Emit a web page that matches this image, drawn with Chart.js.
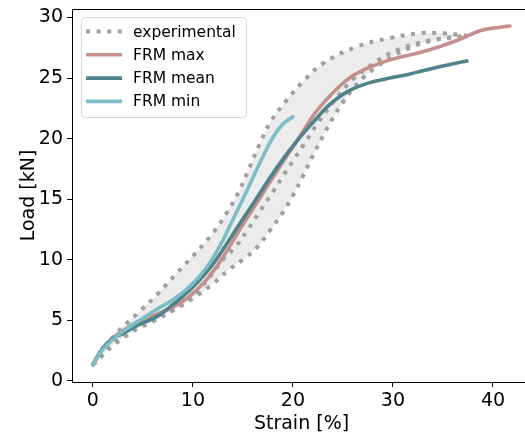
<!DOCTYPE html>
<html><head><meta charset="utf-8">
<script src="https://cdn.jsdelivr.net/npm/chart.js@4/dist/chart.umd.min.js"></script>
<style>html,body{margin:0;padding:0;overflow:hidden;background:#fff}</style></head>
<body><canvas id="c" width="545" height="437"></canvas>
<script>
// ---- data ----
const seriesLabels = ['experimental', 'FRM max', 'FRM mean', 'FRM min'];
const xTicks = [0, 10, 20, 30, 40];
const yTicks = [0, 5, 10, 15, 20, 25, 30];

const expAStrain = [0, 1, 2.7, 4.9, 6.4, 8.4, 10, 12, 13.4, 14.7, 15.7, 16.7, 17.7, 19.4, 21, 23, 26.4, 29.7, 32.7, 35, 37.4];
const expALoad   = [1.3, 2.6, 4.2, 5.9, 7.1, 8.9, 10.3, 12.2, 13.9, 15.8, 17.7, 19.6, 21.3, 23.2, 24.7, 26.2, 27.6, 28.3, 28.7, 28.7, 28.5];

const expBStrain = [0, 1, 2, 4, 6, 8, 10, 12, 13, 14.4, 15.5, 16.7, 18, 19, 20.2, 21.4, 22.5, 24, 26, 28.4, 30.7, 33.7, 37.4];
const expBLoad   = [1.3, 2.3, 3.1, 4.3, 5.2, 5.9, 7.0, 8.9, 10.0, 11.2, 12.5, 14.0, 15.6, 16.9, 18.4, 19.9, 21.3, 23.0, 24.9, 26.4, 27.4, 28.1, 28.5];

const expCStrain = [0, 1, 2, 3, 4, 6, 8, 10, 12, 13.5, 15, 16.4, 17.7, 19, 20, 21, 22, 23, 24, 25, 26, 27, 28.5, 30, 32, 34, 37.4];
const expCLoad   = [1.3, 2.1, 2.9, 3.5, 4.1, 4.9, 5.8, 6.8, 8.0, 9.1, 10.0, 11.0, 12.4, 13.9, 15.3, 16.9, 18.6, 20.2, 21.7, 23.0, 24.1, 25.0, 26.0, 26.8, 27.6, 28.1, 28.5];

const maxStrain = [0, 1, 2.4, 4.7, 6.4, 8, 9.7, 11.4, 13, 14.7, 16.7, 18.7, 20.7, 22.4, 24.5, 26, 27.4, 29.7, 32.7, 34.7, 36.7, 38.7, 40.7, 41.7];
const maxLoad   = [1.4, 2.7, 3.8, 5.0, 5.5, 6.1, 7.0, 8.4, 10.2, 12.5, 15.1, 17.7, 20.2, 22.3, 24.2, 25.2, 25.8, 26.5, 27.1, 27.6, 28.2, 28.9, 29.2, 29.3];

const meanStrain = [0, 1, 2, 3, 4.5, 6.4, 8, 9.7, 11.4, 12.5, 14, 16, 18.4, 20.4, 22.4, 23.4, 24.4, 25.5, 26.7, 28, 29.7, 31.5, 33, 35, 37.4];
const meanLoad   = [1.3, 2.7, 3.5, 3.9, 4.6, 5.3, 6.3, 7.5, 9.0, 10.2, 12.1, 14.6, 17.6, 19.8, 21.7, 22.6, 23.3, 23.9, 24.35, 24.7, 25.0, 25.3, 25.6, 26.0, 26.4];

const minStrain = [0, 1, 2.7, 4.7, 6.4, 8, 9.7, 11.4, 13, 13.7, 15.4, 16.7, 18, 19, 20];
const minLoad   = [1.3, 2.6, 3.9, 5.0, 5.9, 6.7, 7.8, 9.4, 11.6, 12.8, 15.7, 18.0, 20.1, 21.2, 21.8];

const zip = (xs, ys) => xs.map((x, i) => ({x: x, y: ys[i]}));

const FONT = "'DejaVu Sans', sans-serif";
const colExp = '#a0a0a0', colMax = '#c48f8d', colMean = '#508389', colMin = '#7bbec4';

function solid(label, xs, ys, color) {
  return {label, data: zip(xs, ys), showLine: true, borderColor: color, backgroundColor: color,
    borderWidth: 3.6, pointRadius: 0, tension: 0.4, fill: false, borderCapStyle: 'round'};
}
function dotted(label, xs, ys, fill) {
  return {label, data: zip(xs, ys), showLine: true, borderColor: colExp, backgroundColor: '#ececec',
    borderWidth: 4, borderDash: [4, 6.6], borderCapStyle: 'butt', pointRadius: 0,
    tension: 0.4, fill: fill};
}

const datasets = [
  solid(seriesLabels[3], minStrain, minLoad, colMin),
  solid(seriesLabels[2], meanStrain, meanLoad, colMean),
  solid(seriesLabels[1], maxStrain, maxLoad, colMax),
  dotted(seriesLabels[0], expAStrain, expALoad, 5),
  dotted(seriesLabels[0], expBStrain, expBLoad, false),
  dotted(seriesLabels[0], expCStrain, expCLoad, false)
];

const frame = {
  id: 'frame',
  afterDraw(chart) {
    const a = chart.chartArea, c = chart.ctx;
    c.save();
    c.strokeStyle = '#000'; c.lineWidth = 1;
    c.beginPath(); c.moveTo(a.left, a.top + 0.5); c.lineTo(a.right, a.top + 0.5);
    c.moveTo(a.right - 0.5, a.top); c.lineTo(a.right - 0.5, a.bottom); c.stroke();
    // legend
    const bx = a.left + 9, by = a.top + 8, bw = 165, bh = 100;
    c.beginPath();
    c.roundRect(bx + 0.5, by + 0.5, bw, bh, 4);
    c.fillStyle = 'rgba(255,255,255,0.8)'; c.fill();
    c.strokeStyle = '#d6d6d6'; c.lineWidth = 1; c.stroke();
    const items = [datasets[3], datasets[2], datasets[1], datasets[0]];
    items.forEach((d, i) => {
      const yy = by + 14.5 + i * 23.3;
      c.beginPath();
      c.strokeStyle = d.borderColor; c.lineWidth = d.borderWidth === 4 ? 4 : 3.6;
      c.setLineDash(d.borderDash || []);
      c.lineCap = 'butt';
      c.moveTo(bx + 5, yy); c.lineTo(bx + 41, yy); c.stroke();
      c.setLineDash([]);
      c.fillStyle = '#000'; c.font = '15.5px ' + FONT; c.textBaseline = 'middle'; c.textAlign = 'left';
      c.fillText(seriesLabels[i], bx + 52, yy + 1);
    });
    c.restore();
  }
};

const tickFont = {family: FONT, size: 19};
new Chart(document.getElementById('c'), {
  type: 'scatter',
  data: {datasets},
  plugins: [frame],
  options: {
    responsive: false, animation: false,
    layout: {padding: {top: 9, right: 14, left: 0, bottom: 0}},
    plugins: {legend: {display: false}, tooltip: {enabled: false}, filler: {drawTime: 'beforeDatasetsDraw'}},
    scales: {
      x: {
        type: 'linear', min: -2.085, max: 43.8,
        afterBuildTicks: s => { s.ticks = xTicks.map(v => ({value: v})); },
        afterFit: s => { s.height = 55; s.paddingLeft = 0; s.paddingRight = 0; },
        ticks: {font: tickFont, color: '#000', padding: 3, autoSkip: false, maxRotation: 0},
        grid: {drawOnChartArea: false, drawTicks: true, tickLength: 5, tickColor: '#000', tickWidth: 1},
        border: {display: true, color: '#000', width: 1},
        title: {display: true, text: 'Strain [%]', font: tickFont, color: '#000', padding: {top: 0, bottom: 2}}
      },
      y: {
        type: 'linear', min: -0.1, max: 30.7,
        afterBuildTicks: s => { s.ticks = yTicks.map(v => ({value: v})); },
        afterFit: s => { s.width = 72; s.paddingTop = 0; s.paddingBottom = 0; },
        ticks: {font: tickFont, color: '#000', padding: 4, autoSkip: false},
        grid: {drawOnChartArea: false, drawTicks: true, tickLength: 5, tickColor: '#000', tickWidth: 1},
        border: {display: true, color: '#000', width: 1},
        title: {display: true, text: 'Load [kN]', font: tickFont, color: '#000', padding: {top: 18, bottom: 0}}
      }
    }
  }
});
</script></body></html>
